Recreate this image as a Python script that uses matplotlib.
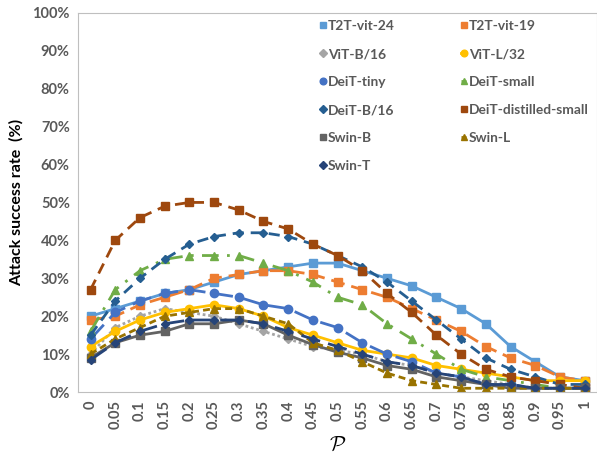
import numpy as np
import matplotlib
matplotlib.use("Agg")
import matplotlib.pyplot as plt

plt.rcParams['font.family'] = ['Lato', 'DejaVu Sans']
plt.rcParams['mathtext.fontset'] = 'cm'

p_labels = ['0', '0.05', '0.1', '0.15', '0.2', '0.25', '0.3', '0.35', '0.4', '0.45', '0.5',
            '0.55', '0.6', '0.65', '0.7', '0.75', '0.8', '0.85', '0.9', '0.95', '1']

t2t_vit_24 = [20, 22, 24, 26, 27, 29, 31, 32, 33, 34, 34, 32, 30, 28, 25, 22, 18, 12, 8, 4, 3]
t2t_vit_19 = [19, 20, 23, 25, 27, 30, 31, 32, 32, 31, 29, 27, 25, 22, 19, 16, 12, 9, 7, 4, 3]
vit_b16 = [10, 17, 20, 22, 21, 20, 18, 16, 14, 12, 11, 10, 8, 7, 5, 4, 3, 2, 1, 1, 1]
vit_l32 = [12, 16, 19, 21, 22, 23, 22, 20, 17, 15, 13, 11, 10, 9, 7, 6, 5, 4, 3, 3, 3]
deit_tiny = [14, 21, 24, 26, 27, 26, 25, 23, 22, 19, 17, 13, 10, 8, 5, 4, 2, 2, 1, 1, 1]
deit_small = [16, 27, 32, 35, 36, 36, 36, 34, 32, 29, 25, 23, 18, 14, 10, 6, 4, 3, 2, 1, 1]
deit_b16 = [15, 24, 30, 35, 39, 41, 42, 42, 41, 39, 36, 33, 29, 24, 19, 14, 9, 6, 4, 2, 2]
deit_dist_small = [27, 40, 46, 49, 50, 50, 48, 45, 43, 39, 36, 32, 26, 21, 15, 10, 6, 4, 3, 2, 1]
swin_b = [9, 13, 15, 16, 18, 18, 19, 18, 15, 12.5, 10.5, 9, 7, 6, 4, 3, 2, 1, 1, 1, 1]
swin_l = [10, 14, 17, 20, 21, 22, 22, 20, 18, 13, 11, 8, 5, 3, 2, 1, 1, 1, 1, 1, 1]
swin_t = [8.5, 13, 16, 18, 19, 19, 19, 18, 16, 14, 12, 10, 8, 7, 5, 4, 2, 2, 1, 1, 1]

series = [
    ('T2T-vit-24', t2t_vit_24, '#5B9BD5', '-', 's', 5.5),
    ('T2T-vit-19', t2t_vit_19, '#ED7D31', (0, (5, 2.5)), 's', 5.5),
    ('ViT-B/16', vit_b16, '#A5A5A5', (0, (1, 1)), 'D', 4.5),
    ('ViT-L/32', vit_l32, '#FFC000', '-', 'o', 6),
    ('DeiT-tiny', deit_tiny, '#4472C4', (0, (7, 3)), 'o', 6),
    ('DeiT-small', deit_small, '#70AD47', (0, (6, 3, 1, 3)), '^', 6),
    ('DeiT-B/16', deit_b16, '#255E91', (0, (4, 2.5)), 'D', 4.5),
    ('DeiT-distilled-small', deit_dist_small, '#9E480E', (0, (4, 2.5)), 's', 6),
    ('Swin-B', swin_b, '#636363', '-', 's', 5.5),
    ('Swin-L', swin_l, '#997300', (0, (2.5, 1.5)), '^', 6),
    ('Swin-T', swin_t, '#264478', (0, (7, 3)), 'D', 4.5),
]

fig = plt.figure(figsize=(5.97, 4.58), dpi=100)
ax = fig.add_axes([0.131, 0.144, 0.869, 0.828])
x = np.arange(len(p_labels))

handles = {}
for name, vals, col, ls, mk, ms in series:
    h, = ax.plot(x, vals, color=col, linestyle=ls, linewidth=2, marker=mk,
                 markersize=ms, markeredgecolor=col, label=name)
    handles[name] = h

ax.set_xlim(-0.5, len(p_labels) - 0.5)
ax.set_ylim(0, 100)
ax.set_xticks(x)
ax.set_xticklabels(p_labels, rotation=90, fontsize=10.5, fontweight='bold', color='#595959')
ax.set_yticks(np.arange(0, 101, 10))
ax.set_yticklabels([f'{v}%' for v in range(0, 101, 10)], fontsize=10.5,
                   fontweight='bold', color='#595959')
ax.tick_params(length=0, pad=6)
for s in ax.spines.values():
    s.set_color('#BFBFBF')

ax.set_ylabel('Attack success rate  (%)', fontsize=11.5, fontweight='bold', labelpad=6)
ax.set_xlabel(r'$\mathcal{P}$', fontsize=15, labelpad=4)

# legend as two single columns so each can be placed where the original has it
col1 = ['T2T-vit-24', 'ViT-B/16', 'DeiT-tiny', 'DeiT-B/16', 'Swin-B', 'Swin-T']
col2 = ['T2T-vit-19', 'ViT-L/32', 'DeiT-small', 'DeiT-distilled-small', 'Swin-L']
legs = []
for names, xa in [(col1, 0.537), (col2, 0.773)]:
    lg = ax.legend([handles[n] for n in names], names, loc='upper left',
                   bbox_to_anchor=(xa, 0.956), bbox_transform=fig.transFigure,
                   frameon=False, handlelength=0.35, handletextpad=0.2,
                   labelspacing=1.16, markerscale=0.8, borderpad=0, borderaxespad=0,
                   prop={'weight': 'bold', 'size': 9.9})
    for t in lg.get_texts():
        t.set_color('#595959')
    legs.append(lg)
ax.add_artist(legs[0])

fig.savefig('out.png', dpi=100)
